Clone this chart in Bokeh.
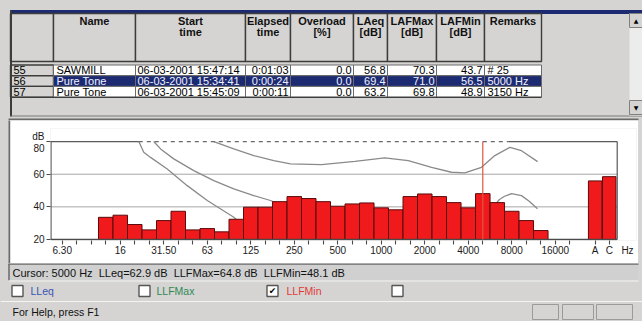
from bokeh.plotting import figure
from bokeh.layouts import column, row
from bokeh.models import ColumnDataSource, Range1d, FixedTicker
from bokeh.embed import file_html
from bokeh.resources import INLINE
from bokeh.core.properties import value

# ---------------- data ----------------
row_ids = ["55", "56", "57"]
names = ["SAWMILL", "Pure Tone", "Pure Tone"]
start_times = ["06-03-2001 15:47:14", "06-03-2001 15:34:41", "06-03-2001 15:45:09"]
elapsed = ["0:01:03", "0:00:24", "0:00:11"]
overload = [0.0, 0.0, 0.0]
laeq = [56.8, 69.4, 63.2]
lafmax = [70.3, 71.0, 69.8]
lafmin = [43.7, 56.5, 48.9]
remarks = ["# 25", "5000 Hz", "3150 Hz"]
selected_row = 1

header_line1 = ["Name", "Start", "Elapsed", "Overload", "LAeq", "LAFMax", "LAFMin", "Remarks"]
header_line2 = ["", "time", "time", "[%]", "[dB]", "[dB]", "[dB]", ""]

bands = ["6.30", "8", "10", "12.5", "16", "20", "25", "31.50", "40", "50", "63", "80",
         "100", "125", "160", "200", "250", "315", "400", "500", "630", "800", "1000",
         "1250", "1600", "2000", "2500", "3150", "4000", "5000", "6300", "8000", "10000",
         "12500", "16000", "20000"]
labelled_bands = ["6.30", "16", "31.50", "63", "125", "250", "500", "1000", "2000",
                  "4000", "8000", "16000"]
spectrum_bands = bands[3:34]          # 12.5 Hz ... 12.5 kHz
llfmin_db = [33.6, 34.9, 29.2, 25.9, 31.6, 37.3, 25.9, 26.7, 24.7, 32.4, 39.8, 39.8,
             43.2, 46.3, 45.1, 43.2, 40.4, 41.8, 42.4, 39.4, 38.2, 46.3, 47.9, 46.3,
             42.6, 39.4, 48.1, 42.6, 37.3, 31.6, 25.5]
weight_labels = ["A", "C"]
weight_db = [55.9, 58.5]
unit_label = "Hz"
level_unit = "dB"

y_ticks = [20, 40, 60, 80]
y_grid = [40, 60]

# grey reference curves (position in band steps, level dB)
curve_low_pos = [5.28, 5.62, 6.09, 7.24, 8.62, 10.0, 11.83, 12.3]
curve_low_db = [80, 73.4, 70.3, 63.2, 53.0, 43.9, 33.6, 30.0]
curve_mid_pos = [6.31, 6.78, 7.69, 9.07, 10.45, 11.83, 13.21, 14.36, 15.0, 16.0, 18.0,
                 20.0, 22.0, 23.0, 24.5, 26.0, 27.5, 28.6, 29.3, 29.9, 30.15, 30.5,
                 30.98, 31.67, 32.2, 32.77]
curve_mid_db = [80, 75.5, 69.4, 62.2, 56.1, 51.0, 46.9, 43.9, 41.5, 40.0, 38.0, 36.5,
                35.0, 35.0, 35.5, 34.0, 32.5, 33.5, 37.0, 42.0, 44.5, 46.5, 48.1, 46.9,
                43.5, 38.9]
curve_up_pos = [10.45, 11.83, 13.21, 14.59, 15.74, 17.88, 20.18, 22.24, 23.86, 25.47,
                26.84, 27.76, 28.91, 29.83, 30.87, 31.67, 32.78]
curve_up_db = [80, 75.5, 71.4, 68.3, 66.3, 65.9, 67.9, 70.0, 68.3, 64.2, 61.2, 60.8,
               64.2, 71.4, 76.5, 74.4, 67.7]

cursor_band = "5000"
cursor_lleq = 62.9
cursor_llfmax = 64.8
cursor_llfmin = 48.1

check_labels = ["LLeq", "LLFMax", "LLFMin", ""]
check_colors = ["#3b55b4", "#2f8a52", "#e23a3a", "#000000"]
check_state = [False, False, True, False]
status_text = "For Help, press F1"

# ---------------- style / layout constants ----------------
FONT = "Liberation Sans"
UI_GRAY = "#d5d4d2"
DARK = "#3c3c3c"
NAVY = "#1c2a72"
W = 642


def no_align(fig):
    if "frame_align" in type(fig).properties():
        fig.frame_align = False


COL_EDGES = [10, 53, 135, 245, 290, 353, 387, 436, 484, 541]
HEAD_TOP, HEAD_BOT = 13, 61
ROW_TOPS = [64.5, 75.2, 85.9]
ROW_H = 10.7
COL_ANCHOR = [(56, "left"), (137, "left"), (288, "right"), (351, "right"),
              (385, "right"), (434, "right"), (482, "right"), (487, "left")]

# ---------------- table figure ----------------
t = figure(width=W, height=120, x_range=Range1d(0, 642), y_range=Range1d(120, 0),
           toolbar_location=None, output_backend="svg", title=None,
           x_axis_location=None, y_axis_location=None, min_border=0)
no_align(t)
t.grid.visible = False
t.outline_line_color = None
t.background_fill_color = UI_GRAY
t.border_fill_color = UI_GRAY

t.quad(left=10, right=642, top=10, bottom=13, color=NAVY)
t.quad(left=COL_EDGES[:-1], right=COL_EDGES[1:], top=HEAD_TOP, bottom=HEAD_BOT,
       fill_color=UI_GRAY, line_color=DARK, line_width=1.4)
t.quad(left=COL_EDGES[0], right=COL_EDGES[1], top=ROW_TOPS,
       bottom=[r + ROW_H for r in ROW_TOPS], fill_color=UI_GRAY, line_color=DARK,
       line_width=1.4)
lefts, rights, tops, bots, fills = [], [], [], [], []
for i, rt in enumerate(ROW_TOPS):
    for j in range(1, len(COL_EDGES) - 1):
        lefts.append(COL_EDGES[j]); rights.append(COL_EDGES[j + 1])
        tops.append(rt); bots.append(rt + ROW_H)
        fills.append(NAVY if i == selected_row else "#ffffff")
t.quad(left=lefts, right=rights, top=tops, bottom=bots, fill_color=fills,
       line_color="#6a6a6a", line_width=1)
t.segment(x0=10.5, y0=10, x1=10.5, y1=116, line_color=DARK, line_width=2)
t.segment(x0=10, y0=96.8, x1=541, y1=96.8, line_color=DARK, line_width=1.2)
t.segment(x0=10, y0=115.5, x1=642, y1=115.5, line_color="#7a7a7a", line_width=1)
t.segment(x0=8, y0=119, x1=638, y1=119, line_color="#6a6a6a", line_width=2)
# scrollbar
t.quad(left=629, right=642, top=13, bottom=115, fill_color="#ececec", line_color=None)
t.quad(left=629, right=642, top=[13, 100], bottom=[27, 114], fill_color=UI_GRAY,
       line_color="#808080", line_width=1)
t.text(x=635.5, y=[20, 107], text=["▲", "▼"], text_align="center",
       text_baseline="middle", text_font=value("DejaVu Sans"),
       text_font_size=value("6px"), text_color="#000000")

mids = [(COL_EDGES[j] + COL_EDGES[j + 1]) / 2 for j in range(1, len(COL_EDGES) - 1)]
for line_y, line_txt in [(20, header_line1), (31, header_line2)]:
    t.text(x=mids, y=line_y, text=line_txt, text_align="center", text_baseline="middle",
           text_font=value(FONT), text_font_size=value("11px"),
           text_font_style="bold", text_color="#111111")

row_y = [rt + ROW_H / 2 for rt in ROW_TOPS]
row_color = ["#eef0ff" if i == selected_row else "#000000" for i in range(len(row_ids))]
t.text(x=13, y=row_y, text=row_ids, text_align="left", text_baseline="middle",
       text_font=value(FONT), text_font_size=value("11px"), text_color="#000000")
columns_text = [names, start_times, elapsed,
                [f"{v:.1f}" for v in overload], [f"{v:.1f}" for v in laeq],
                [f"{v:.1f}" for v in lafmax], [f"{v:.1f}" for v in lafmin], remarks]
for (ax, al), vals in zip(COL_ANCHOR, columns_text):
    src = ColumnDataSource(dict(y=row_y, text=vals, color=row_color))
    t.text(x=ax, y="y", text="text", text_color="color", source=src, text_align=al,
           text_baseline="middle", text_font=value(FONT), text_font_size=value("11px"))

# ---------------- chart figure ----------------
X_START, X_END = -0.81, 39.60       # frame extent in band steps
X_BORDER = 38.27                    # right frame line
Y_START, Y_END = 19.4, 88.0         # frame extent in dB
Y_MIN, Y_TOP = 20, 80
WEIGHT_POS = [36.75, 37.72]
UNIT_POS = 38.98
LABEL80_POS, UNIT_Y_POS = 76.0, 82.8
DASH_FROM, DASH_TO = 5.28, 30.8
AXIS_C = "#4a4a4a"

band_pos = {b: i for i, b in enumerate(bands)}

c = figure(width=628, height=143, x_range=Range1d(X_START, X_END),
           y_range=Range1d(Y_START, Y_END), toolbar_location=None, output_backend="svg",
           title=None, min_border_left=40, min_border_right=2, min_border_top=8,
           min_border_bottom=23, margin=(0, 4, 0, 0))
no_align(c)
c.background_fill_color = "#ffffff"
c.border_fill_color = "#ffffff"
c.outline_line_color = None
c.grid.visible = False

# grid lines
c.segment(x0=X_START, y0=y_grid, x1=X_BORDER, y1=y_grid, line_color="#a6a6a6",
          line_width=1)
# reference curves (under the bars)
for px, py in [(curve_low_pos, curve_low_db), (curve_mid_pos, curve_mid_db),
               (curve_up_pos, curve_up_db)]:
    c.line(px, py, line_color="#8a8a8a", line_width=1.3)

# bars
bar_src = ColumnDataSource(dict(x=[band_pos[b] for b in spectrum_bands], top=llfmin_db))
c.vbar(x="x", top="top", bottom=Y_MIN, width=1.0, source=bar_src,
       fill_color="#f01a1d", line_color="#5a0b0b", line_width=1)
w_src = ColumnDataSource(dict(x=WEIGHT_POS, top=weight_db))
c.vbar(x="x", top="top", bottom=Y_MIN, width=0.93, source=w_src,
       fill_color="#f01a1d", line_color="#5a0b0b", line_width=1)

# frame lines
c.segment(x0=[X_START, DASH_TO], y0=Y_TOP, x1=[DASH_FROM, X_BORDER], y1=Y_TOP,
          line_color="#5a5a5a", line_width=1.2)
c.segment(x0=DASH_FROM, y0=Y_TOP, x1=DASH_TO, y1=Y_TOP, line_color="#6a6a6a",
          line_width=1.2, line_dash="4 4")
c.segment(x0=X_BORDER, y0=Y_MIN, x1=X_BORDER, y1=Y_TOP, line_color="#5a5a5a",
          line_width=1.2)
c.segment(x0=X_START + 0.03, y0=Y_MIN, x1=X_START + 0.03, y1=Y_TOP, line_color=AXIS_C,
          line_width=1.3)
c.segment(x0=X_START, y0=Y_MIN, x1=X_BORDER, y1=Y_MIN, line_color=AXIS_C,
          line_width=1.3)

# cursor line
cx = band_pos[cursor_band]
c.segment(x0=cx, y0=Y_MIN, x1=cx, y1=Y_TOP, line_color="#e2553f", line_width=1.2)

# axes: major ticks carry only labels, minor ticks carry the tick marks
x_major = [band_pos[b] for b in labelled_bands] + WEIGHT_POS + [UNIT_POS]
x_minor = list(range(len(bands))) + WEIGHT_POS
c.xaxis.ticker = FixedTicker(ticks=x_major, minor_ticks=x_minor)
x_over = {band_pos[b]: b for b in labelled_bands}
x_over.update({p: l for p, l in zip(WEIGHT_POS, weight_labels)})
x_over[UNIT_POS] = unit_label
c.xaxis.major_label_overrides = x_over

y_major = y_ticks[:-1] + [LABEL80_POS, UNIT_Y_POS]
c.yaxis.ticker = FixedTicker(ticks=y_major, minor_ticks=y_ticks)
y_over = {v: str(v) for v in y_ticks[:-1]}
y_over[LABEL80_POS] = str(y_ticks[-1])
y_over[UNIT_Y_POS] = level_unit
c.yaxis.major_label_overrides = y_over

for ax in (c.xaxis[0], c.yaxis[0]):
    ax.axis_line_color = None
    ax.major_tick_line_color = None
    ax.minor_tick_line_color = AXIS_C
    ax.minor_tick_line_width = 1.1
    ax.major_tick_in = 0
    ax.major_tick_out = 0
    ax.minor_tick_in = 0
    ax.minor_tick_out = 4
    ax.major_label_text_font = FONT
    ax.major_label_text_font_size = "10px"
    ax.major_label_text_color = "#1a1a1a"
c.xaxis.major_label_standoff = 0
c.yaxis.major_label_standoff = 2

# dark left edge of the chart panel
edge = figure(width=2, height=143, toolbar_location=None, output_backend="svg",
              title=None, x_axis_location=None, y_axis_location=None, min_border=0,
              margin=(0, 0, 0, 8))
no_align(edge)
edge.grid.visible = False
edge.outline_line_color = None
edge.background_fill_color = "#6a6a6a"
edge.border_fill_color = "#6a6a6a"

# ---------------- bottom figure ----------------
b = figure(width=W, height=58, x_range=Range1d(0, 642), y_range=Range1d(321, 263),
           toolbar_location=None, output_backend="svg", title=None,
           x_axis_location=None, y_axis_location=None, min_border=0)
no_align(b)
b.grid.visible = False
b.outline_line_color = None
b.background_fill_color = UI_GRAY
b.border_fill_color = UI_GRAY

b.quad(left=8, right=638, top=263, bottom=280, fill_color="#d0d0d0", line_color=None)
b.segment(x0=8, y0=263.6, x1=638, y1=263.6, line_color="#6a6a6a", line_width=1.5)
b.segment(x0=8.5, y0=263, x1=8.5, y1=280, line_color="#6a6a6a", line_width=1.5)
b.segment(x0=8, y0=280.5, x1=638, y1=280.5, line_color="#f4f4f4", line_width=1.2)
b.segment(x0=0, y0=301, x1=642, y1=301, line_color="#f4f4f4", line_width=1.2)

GAP = "\u00a0 "
cursor_text = (f"Cursor: {cursor_band} Hz{GAP}LLeq={cursor_lleq} dB{GAP}"
               f"LLFMax={cursor_llfmax} dB{GAP}LLFMin={cursor_llfmin} dB")
b.text(x=12, y=272, text=[cursor_text], text_align="left", text_baseline="middle",
       text_font=value(FONT), text_font_size=value("11px"), text_color="#111111")

CHECK_X = [17, 144, 272, 397]
LABEL_X = [30, 156, 286, 410]
CHECK_Y = 290.5
b.rect(x=CHECK_X, y=CHECK_Y, width=11, height=11, width_units="screen",
       height_units="screen", fill_color="#ffffff", line_color="#555555", line_width=1.4)
b.text(x=[x for x, s in zip(CHECK_X, check_state) if s], y=CHECK_Y, text=["✔"],
       text_align="center", text_baseline="middle", text_font=value("DejaVu Sans"),
       text_font_size=value("9px"), text_color="#000000")
b.text(x=LABEL_X, y=CHECK_Y, text=check_labels, text_color=check_colors,
       text_align="left", text_baseline="middle", text_font=value(FONT),
       text_font_size=value("10.5px"))

b.text(x=12, y=311, text=[status_text], text_align="left", text_baseline="middle",
       text_font=value(FONT), text_font_size=value("10.5px"), text_color="#111111")
b.quad(left=[532, 562, 596], right=[558, 593, 632], top=304, bottom=319,
       fill_color=UI_GRAY, line_color="#9a9a9a", line_width=1)

mid = row(edge, c, styles={"background-color": UI_GRAY})
layout = column(t, mid, b, styles={"background-color": UI_GRAY})

open("out.html", "w").write(file_html(layout, INLINE))
